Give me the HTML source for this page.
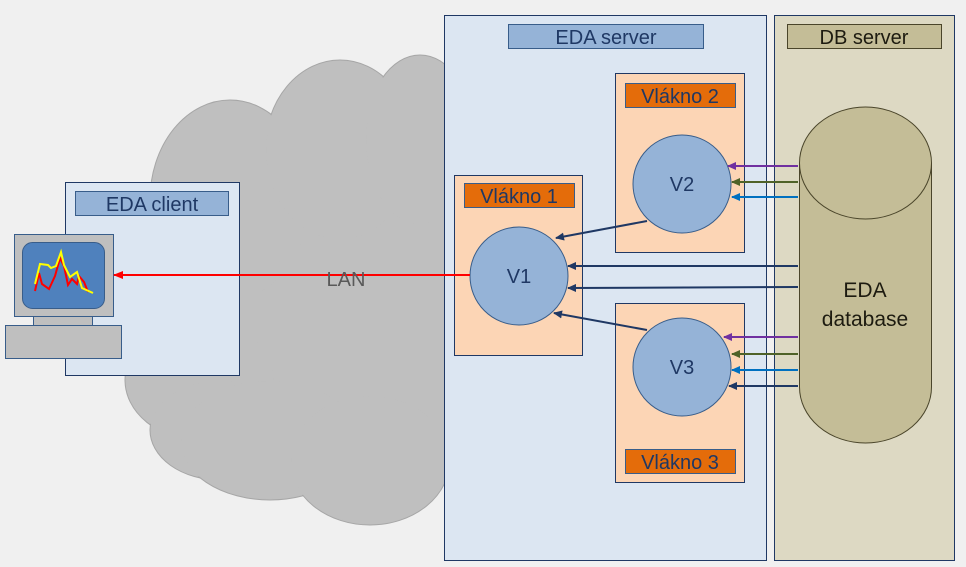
<!DOCTYPE html>
<html><head><meta charset="utf-8"><style>body{margin:0;background:#f0f0f0}svg{display:block}text{font-family:"Liberation Sans",sans-serif}</style></head><body>
<svg width="966" height="567" viewBox="0 0 966 567" xmlns="http://www.w3.org/2000/svg">
<defs>
<marker id="rr" markerWidth="10" markerHeight="10" refX="9" refY="5" orient="auto" markerUnits="userSpaceOnUse"><path d="M0,1 L10,5 L0,9z" fill="#f00"/></marker>
<marker id="m1" markerWidth="9" markerHeight="8" refX="8" refY="4" orient="auto" markerUnits="userSpaceOnUse"><path d="M0,0 L9,4 L0,8z" fill="#1f3864"/></marker>
<marker id="mp" markerWidth="9" markerHeight="8" refX="8" refY="4" orient="auto" markerUnits="userSpaceOnUse"><path d="M0,0 L9,4 L0,8z" fill="#7030a0"/></marker>
<marker id="mg" markerWidth="9" markerHeight="8" refX="8" refY="4" orient="auto" markerUnits="userSpaceOnUse"><path d="M0,0 L9,4 L0,8z" fill="#4f6228"/></marker>
<marker id="mb" markerWidth="9" markerHeight="8" refX="8" refY="4" orient="auto" markerUnits="userSpaceOnUse"><path d="M0,0 L9,4 L0,8z" fill="#0070c0"/></marker>
</defs>
<g fill="#bfbfbf" stroke="#a6a6a6" stroke-width="1">
<ellipse cx="230" cy="200" rx="80" ry="100"/>
<ellipse cx="340" cy="150" rx="75" ry="90"/>
<ellipse cx="420" cy="140" rx="55" ry="85"/>
<ellipse cx="200" cy="380" rx="75" ry="60"/>
<ellipse cx="220" cy="430" rx="70" ry="50"/>
<ellipse cx="270" cy="440" rx="90" ry="60"/>
<ellipse cx="370" cy="460" rx="80" ry="65"/>
<ellipse cx="420" cy="330" rx="60" ry="150"/>
</g>
<g fill="#bfbfbf"><rect x="170" y="180" width="280" height="280"/><ellipse cx="230" cy="200" rx="79" ry="99"/><ellipse cx="340" cy="150" rx="74" ry="89"/><ellipse cx="420" cy="140" rx="54" ry="84"/><ellipse cx="200" cy="380" rx="74" ry="59"/><ellipse cx="220" cy="430" rx="69" ry="49"/><ellipse cx="270" cy="440" rx="89" ry="59"/><ellipse cx="370" cy="460" rx="79" ry="64"/></g>
<rect x="65.5" y="182.5" width="174" height="193" fill="#dce6f2" stroke="#1f3864"/>
<rect x="75.5" y="191.5" width="153" height="24" fill="#95b3d7" stroke="#385d8a"/>
<text x="152" y="211" font-size="20" fill="#1f3864" text-anchor="middle">EDA client</text>
<rect x="14.5" y="234.5" width="99" height="82" fill="#bfbfbf" stroke="#385d8a"/>
<rect x="22.5" y="242.5" width="82" height="66" rx="10" fill="#4f81bd" stroke="#385d8a"/>
<rect x="33.5" y="316.5" width="59" height="9" fill="#bfbfbf" stroke="#385d8a"/>
<rect x="5.5" y="325.5" width="116" height="33" fill="#bfbfbf" stroke="#385d8a"/>
<polyline points="35,291 39,273 42,284 49,289 55,276 60,258 64,266 68,285 72,279 77,284 79,276 84,282 88,292" fill="none" stroke="#f00" stroke-width="2"/>
<polyline points="35,284 40,264 48,265 51,268 56,266 61,252 64,265 70,277 77,272 82,288 93,293" fill="none" stroke="#ff0" stroke-width="2"/>
<rect x="444.5" y="15.5" width="322" height="545" fill="#dce6f2" stroke="#1f3864"/>
<rect x="508.5" y="24.5" width="195" height="24" fill="#95b3d7" stroke="#385d8a"/>
<text x="606" y="44" font-size="20" fill="#1f3864" text-anchor="middle">EDA server</text>
<rect x="774.5" y="15.5" width="180" height="545" fill="#ddd9c3" stroke="#1f3864"/>
<rect x="787.5" y="24.5" width="154" height="24" fill="#c4bd97" stroke="#4a452a"/>
<text x="864" y="44" font-size="20" fill="#1d1b10" text-anchor="middle">DB server</text>
<path d="M799.5,163 L799.5,387 A66,56 0 0 0 931.5,387 L931.5,163" fill="#c4bd97" stroke="#4a452a"/>
<ellipse cx="865.5" cy="163" rx="66" ry="56" fill="#c4bd97" stroke="#4a452a"/>
<text x="865" y="297" font-size="21" fill="#1d1b10" text-anchor="middle">EDA</text>
<text x="865" y="326" font-size="21" fill="#1d1b10" text-anchor="middle">database</text>
<rect x="615.5" y="73.5" width="129" height="179" fill="#fcd5b5" stroke="#1f3864"/>
<rect x="625.5" y="83.5" width="110" height="24" fill="#e46c0a" stroke="#385d8a"/>
<text x="680" y="103" font-size="20" fill="#1f3864" text-anchor="middle">Vlákno 2</text>
<rect x="454.5" y="175.5" width="128" height="180" fill="#fcd5b5" stroke="#1f3864"/>
<rect x="464.5" y="183.5" width="110" height="24" fill="#e46c0a" stroke="#385d8a"/>
<text x="519" y="203" font-size="20" fill="#1f3864" text-anchor="middle">Vlákno 1</text>
<rect x="615.5" y="303.5" width="129" height="179" fill="#fcd5b5" stroke="#1f3864"/>
<rect x="625.5" y="449.5" width="110" height="24" fill="#e46c0a" stroke="#385d8a"/>
<text x="680" y="469" font-size="20" fill="#1f3864" text-anchor="middle">Vlákno 3</text>
<circle cx="682" cy="184" r="49" fill="#95b3d7" stroke="#385d8a"/>
<text x="682" y="191" font-size="20" fill="#1f3864" text-anchor="middle">V2</text>
<circle cx="519" cy="276" r="49" fill="#95b3d7" stroke="#385d8a"/>
<text x="519" y="283" font-size="20" fill="#1f3864" text-anchor="middle">V1</text>
<circle cx="682" cy="367" r="49" fill="#95b3d7" stroke="#385d8a"/>
<text x="682" y="374" font-size="20" fill="#1f3864" text-anchor="middle">V3</text>
<line x1="470" y1="275" x2="114" y2="275" stroke="#f00" stroke-width="2" marker-end="url(#rr)"/>
<text x="346" y="286" font-size="20" fill="#595959" text-anchor="middle">LAN</text>
<g stroke-width="2">
<line x1="647" y1="221" x2="556" y2="238" stroke="#1f3864" marker-end="url(#m1)"/>
<line x1="647" y1="330" x2="554" y2="313" stroke="#1f3864" marker-end="url(#m1)"/>
<line x1="798" y1="266" x2="568" y2="266" stroke="#1f3864" marker-end="url(#m1)"/>
<line x1="798" y1="287" x2="568" y2="288" stroke="#1f3864" marker-end="url(#m1)"/>
<line x1="798" y1="166" x2="728" y2="166" stroke="#7030a0" marker-end="url(#mp)"/>
<line x1="798" y1="182" x2="732" y2="182" stroke="#4f6228" marker-end="url(#mg)"/>
<line x1="798" y1="197" x2="732" y2="197" stroke="#0070c0" marker-end="url(#mb)"/>
<line x1="798" y1="337" x2="724" y2="337" stroke="#7030a0" marker-end="url(#mp)"/>
<line x1="798" y1="354" x2="732" y2="354" stroke="#4f6228" marker-end="url(#mg)"/>
<line x1="798" y1="370" x2="732" y2="370" stroke="#0070c0" marker-end="url(#mb)"/>
<line x1="798" y1="386" x2="729" y2="386" stroke="#1f3864" marker-end="url(#m1)"/>
</g>
</svg>
</body></html>
